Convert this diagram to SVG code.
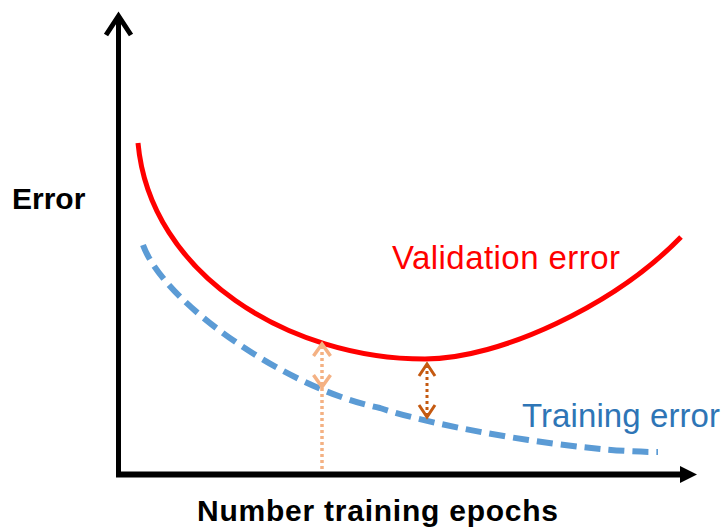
<svg xmlns="http://www.w3.org/2000/svg" width="723" height="531" viewBox="0 0 723 531">
  <style>
    .axis { stroke: #000; fill: none; }
    .label { font-family: "Liberation Sans", Arial, sans-serif; }
    .bold { font-weight: bold; fill: #000; }
    .gap-light { stroke: #F4B183; stroke-width: 3.5; fill: none; }
    .gap-dark { stroke: #C55A11; stroke-width: 3; fill: none; }
    .dots { stroke-dasharray: 3 3; }
  </style>
  <rect width="723" height="531" fill="#fff"/>

  <!-- axes -->
  <g id="axes">
    <line class="axis" x1="118.5" y1="477" x2="118.5" y2="18" stroke-width="5"/>
    <polyline class="axis" points="106,35 118.5,16 131,35" stroke-width="5" stroke-linejoin="miter"/>
    <line class="axis" x1="116" y1="474.5" x2="684" y2="474.5" stroke-width="6"/>
    <polygon points="680,466 697,474.5 680,483" fill="#000"/>
  </g>

  <!-- curves -->
  <g id="validation-curve">
    <path d="M138,143 C150,275 290,359 425,359 C500,359 615,305 681,237" fill="none" stroke="#FF0000" stroke-width="5"/>
  </g>
  <g id="training-curve">
    <path d="M143,245 C165,305 290,390 380,408 C440,428 580,452 658,452" fill="none" stroke="#5B9BD5" stroke-width="6" stroke-dasharray="16 8"/>
  </g>

  <!-- gap markers between the two curves -->
  <g id="connectors">
    <g id="gap-early">
      <line class="gap-light dots" x1="322" y1="346" x2="322" y2="472"/>
      <polyline class="gap-light" points="313.5,356 322,344 330.5,356"/>
      <polyline class="gap-light" points="313.5,375 322,387 330.5,375"/>
    </g>
    <g id="gap-optimum">
      <line class="gap-dark dots" x1="427" y1="365" x2="427" y2="416"/>
      <polyline class="gap-dark" points="419,376 427,364 435,376"/>
      <polyline class="gap-dark" points="419,405 427,417 435,405"/>
    </g>
  </g>

  <!-- labels -->
  <g id="label-y">
    <text class="label bold" x="12" y="209" font-size="30">Error</text>
  </g>
  <g id="label-validation">
    <text class="label" x="392" y="269" font-size="33" fill="#FF0000" textLength="228">Validation error</text>
  </g>
  <g id="label-training">
    <text class="label" x="522" y="427" font-size="33" fill="#2E75B6" textLength="198">Training error</text>
  </g>
  <g id="label-x">
    <text class="label bold" x="197" y="521" font-size="30" textLength="361">Number training epochs</text>
  </g>
</svg>
